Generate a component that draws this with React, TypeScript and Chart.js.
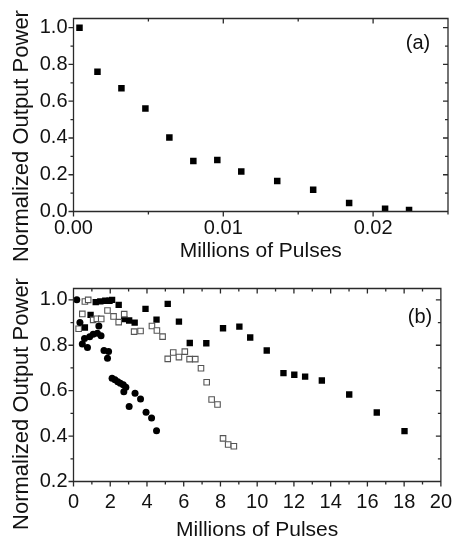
import React, { useEffect, useRef } from 'react';
import { Chart, registerables } from 'chart.js';

Chart.register(...registerables);

// ---------- Panel (a) data ----------
const topX = [0.0004, 0.0016, 0.0032, 0.0048, 0.0064, 0.008, 0.0096, 0.0112, 0.0136, 0.016, 0.0184, 0.0208, 0.0224];
const topY = [1.0, 0.76, 0.67, 0.56, 0.403, 0.275, 0.28, 0.217, 0.166, 0.118, 0.046, 0.015, 0.008];

// ---------- Panel (b) data ----------
// filled squares
const bFilledX = [0.62, 0.93, 1.21, 1.46, 1.73, 1.96, 2.1, 2.46, 2.76, 3.03, 3.33, 3.92, 4.52, 5.13, 5.74, 6.33, 7.23, 8.14, 9.03, 9.62, 10.52, 11.43, 12.02, 12.61, 13.52, 15.01, 16.51, 18.02];
const bFilledY = [0.878, 0.934, 0.99, 0.993, 0.996, 0.996, 1.0, 0.978, 0.915, 0.909, 0.9, 0.96, 0.913, 0.982, 0.904, 0.81, 0.809, 0.875, 0.882, 0.834, 0.777, 0.677, 0.67, 0.662, 0.645, 0.583, 0.504, 0.422];
// open squares
const bOpenX = [0.28, 0.48, 0.62, 0.8, 1.07, 1.27, 1.51, 1.85, 2.18, 2.46, 2.76, 3.3, 3.65, 4.27, 4.54, 4.85, 5.13, 5.43, 5.74, 6.06, 6.32, 6.63, 6.94, 7.25, 7.52, 7.84, 8.14, 8.42, 8.73];
const bOpenY = [0.873, 0.938, 0.993, 1.0, 0.912, 0.917, 0.916, 0.953, 0.927, 0.902, 0.937, 0.86, 0.863, 0.885, 0.865, 0.838, 0.74, 0.768, 0.748, 0.772, 0.739, 0.739, 0.699, 0.637, 0.561, 0.539, 0.39, 0.363, 0.355];
// filled circles
const bCircleX = [0.18, 0.35, 0.48, 0.6, 0.76, 0.88, 1.07, 1.3, 1.5, 1.38, 1.66, 1.91, 1.85, 2.1, 2.26, 2.41, 2.55, 2.71, 2.85, 2.74, 3.35, 3.03, 3.65, 3.95, 4.25, 4.52];
const bCircleY = [1.0, 0.9, 0.806, 0.83, 0.79, 0.838, 0.848, 0.853, 0.842, 0.885, 0.777, 0.772, 0.743, 0.655, 0.648, 0.639, 0.633, 0.626, 0.615, 0.595, 0.589, 0.53, 0.563, 0.505, 0.48, 0.423];

// ---------- tick labels ----------
const topXTicks = [0, 0.01, 0.02];
const topYTicks = [0, 0.2, 0.4, 0.6, 0.8, 1.0];
const botXTicks = [0, 2, 4, 6, 8, 10, 12, 14, 16, 18, 20];
const botYTicks = [0.2, 0.4, 0.6, 0.8, 1.0];

const xTitle = 'Millions of Pulses';
const yTitle = 'Normalized Output Power';

const FONT = "'Liberation Sans', Arial, Helvetica, sans-serif";
const AXIS = '#2a2a2a';
const TEXT = '#111';

const pts = (xs: number[], ys: number[]) => xs.map((x, i) => ({ x, y: ys[i] }));

type FrameOpts = {
  xMinor: number; xRatio: number; yMinor: number; yRatio: number;
  titleX: number; titleY: number; panel: string; panelX: number; panelY: number;
};

const framePlugin = (o: FrameOpts) => ({
  id: 'frameTicks',
  afterDraw(chart: any) {
    const { ctx, chartArea: a, scales } = chart;
    const x = scales.x, y = scales.y;
    ctx.save();
    ctx.strokeStyle = AXIS;
    ctx.lineWidth = 1.3;
    ctx.beginPath();
    ctx.rect(a.left, a.top, a.right - a.left, a.bottom - a.top);
    for (let i = 0; ; i++) {
      const v = x.min + i * o.xMinor;
      if (v > x.max + 1e-9) break;
      const p = x.getPixelForValue(v);
      const L = i % o.xRatio === 0 ? 5 : 3;
      ctx.moveTo(p, a.bottom); ctx.lineTo(p, a.bottom + L);
      ctx.moveTo(p, a.top); ctx.lineTo(p, a.top + L);
    }
    for (let i = 0; ; i++) {
      const v = y.min + i * o.yMinor;
      if (v > y.max + 1e-9) break;
      const p = y.getPixelForValue(v);
      const L = i % o.yRatio === 0 ? 5 : 3;
      ctx.moveTo(a.left, p); ctx.lineTo(a.left - L, p);
      ctx.moveTo(a.right, p); ctx.lineTo(a.right - L, p);
    }
    ctx.stroke();

    ctx.fillStyle = TEXT;
    ctx.font = `22px ${FONT}`;
    ctx.textAlign = 'center';
    ctx.textBaseline = 'middle';
    ctx.save();
    ctx.translate(o.titleX, o.titleY);
    ctx.rotate(-Math.PI / 2);
    ctx.fillText(yTitle, 0, 0);
    ctx.restore();

    ctx.font = `20px ${FONT}`;
    ctx.fillText(o.panel, o.panelX, o.panelY);
    ctx.restore();
  },
});

function makeConfig(
  datasets: any[], xr: [number, number], yr: [number, number], xt: number[], yt: number[],
  xDigits: number, xAxisH: number, xTickPad: number, xTitlePad: number, topPad: number, plugin: any
): any {
  return {
    type: 'scatter',
    data: { datasets },
    options: {
      animation: false,
      responsive: false,
      devicePixelRatio: 1,
      layout: { padding: { top: topPad, right: 13, left: 0, bottom: 0 } },
      plugins: { legend: { display: false }, tooltip: { enabled: false } },
      scales: {
        x: {
          type: 'linear',
          min: xr[0], max: xr[1],
          grid: { display: false, drawTicks: false },
          border: { display: false },
          afterBuildTicks: (s: any) => { s.ticks = xt.map((v) => ({ value: v })); },
          afterFit: (s: any) => { s.height = xAxisH; },
          ticks: {
            padding: xTickPad,
            color: TEXT,
            font: { size: 20, family: FONT },
            maxRotation: 0,
            autoSkip: false,
            callback: (v: any) => Number(v).toFixed(xDigits),
          },
          title: {
            display: true,
            text: xTitle,
            color: TEXT,
            font: { size: 21, family: FONT },
            padding: { top: 0, bottom: xTitlePad },
          },
        },
        y: {
          type: 'linear',
          min: yr[0], max: yr[1],
          grid: { display: false, drawTicks: false },
          border: { display: false },
          afterBuildTicks: (s: any) => { s.ticks = yt.map((v) => ({ value: v })); },
          afterFit: (s: any) => { s.width = 73.5; },
          ticks: {
            padding: 6,
            color: TEXT,
            font: { size: 20, family: FONT },
            autoSkip: false,
            callback: (v: any) => Number(v).toFixed(1),
          },
        },
      },
    },
    plugins: [plugin],
  };
}

export default function App() {
  const topRef = useRef<HTMLCanvasElement>(null);
  const botRef = useRef<HTMLCanvasElement>(null);

  useEffect(() => {
    const topChart = new Chart(
      topRef.current as HTMLCanvasElement,
      makeConfig(
        [
          {
            data: pts(topX, topY),
            pointStyle: 'rect',
            pointRadius: 4.6,
            backgroundColor: '#000',
            borderColor: '#000',
            borderWidth: 0,
          },
        ],
        [0, 0.025], [0, 1.05], topXTicks, topYTicks, 2, 58.5, 5, 6, 18.5,
        framePlugin({ xMinor: 0.005, xRatio: 2, yMinor: 0.1, yRatio: 2, titleX: 22, titleY: 136, panel: '(a)', panelX: 418, panelY: 43 })
      )
    );
    const botChart = new Chart(
      botRef.current as HTMLCanvasElement,
      makeConfig(
        [
          {
            data: pts(bCircleX, bCircleY),
            pointStyle: 'circle',
            pointRadius: 3.5,
            backgroundColor: '#000',
            borderColor: '#000',
            borderWidth: 0,
          },
          {
            data: pts(bOpenX, bOpenY),
            pointStyle: 'rect',
            pointRadius: 3.9,
            backgroundColor: '#fff',
            borderColor: '#555',
            borderWidth: 1.1,
          },
          {
            data: pts(bFilledX, bFilledY),
            pointStyle: 'rect',
            pointRadius: 4.5,
            backgroundColor: '#000',
            borderColor: '#000',
            borderWidth: 0,
          },
        ],
        [0, 20], [0.2, 1.05], botXTicks, botYTicks, 0, 60.5, 9, -1, 18.5,
        framePlugin({ xMinor: 1, xRatio: 2, yMinor: 0.1, yRatio: 2, titleX: 22, titleY: 134, panel: '(b)', panelX: 420, panelY: 47 })
      )
    );
    return () => {
      topChart.destroy();
      botChart.destroy();
    };
  }, []);

  return (
    <div style={{ position: 'absolute', left: 0, top: 0, width: 461, height: 542, background: '#fff' }}>
      <canvas ref={topRef} width={461} height={270} style={{ position: 'absolute', left: 0, top: 0, width: 461, height: 270 }} />
      <canvas ref={botRef} width={461} height={272} style={{ position: 'absolute', left: 0, top: 270, width: 461, height: 272 }} />
    </div>
  );
}
